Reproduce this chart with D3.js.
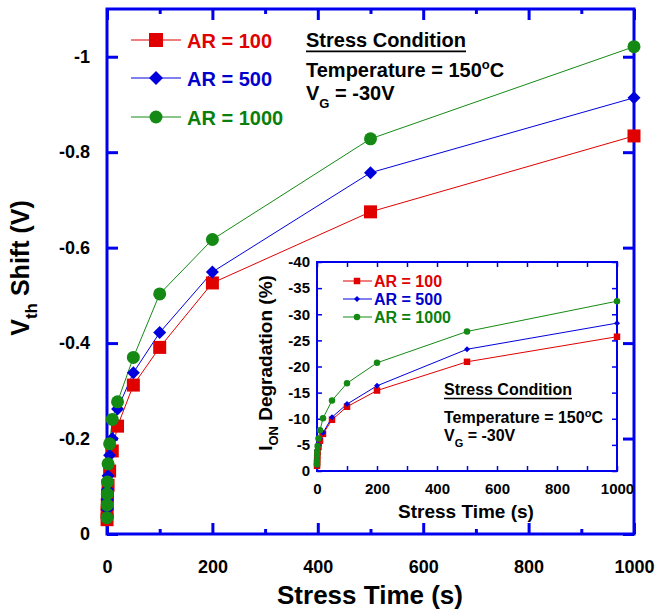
<!DOCTYPE html>
<html>
<head>
<meta charset="utf-8">
<script src="https://cdn.jsdelivr.net/npm/d3@7"></script>
<style>
  body { margin: 0; background: #fff; }
  svg text { font-family: "Liberation Sans", Arial, sans-serif; font-weight: bold; }
</style>
</head>
<body>
<div id="chart"></div>
<script>
// stress times (s) shared by every series
const times = [0.1, 0.2, 0.5, 1, 2, 5, 10, 20, 50, 100, 200, 500, 1000];

// main plot: Vth shift (V)
const vthAR100  = [-0.030, -0.045, -0.062, -0.080, -0.102, -0.132, -0.174, -0.226, -0.312, -0.391, -0.526, -0.675, -0.834];
const vthAR500  = [-0.036, -0.052, -0.072, -0.094, -0.122, -0.165, -0.200, -0.262, -0.338, -0.422, -0.549, -0.757, -0.914];
const vthAR1000 = [-0.034, -0.061, -0.084, -0.109, -0.147, -0.189, -0.240, -0.277, -0.370, -0.503, -0.617, -0.828, -1.021];

// inset: ION degradation (%)
const ionAR100  = [-1.0, -1.5, -2.2, -2.8, -3.6, -4.6, -5.8, -7.1, -9.8, -12.3, -15.4, -20.9, -25.7];
const ionAR500  = [-1.1, -1.7, -2.4, -3.1, -4.0, -5.0, -6.2, -7.3, -10.3, -12.8, -16.3, -23.3, -28.3];
const ionAR1000 = [-1.3, -2.0, -3.0, -3.8, -4.8, -6.2, -7.8, -10.1, -13.5, -16.8, -20.7, -26.7, -32.5];

const seriesNames = ["AR = 100", "AR = 500", "AR = 1000"];

const xTicks = [0, 200, 400, 600, 800, 1000];
const xMinorTicks = [100, 300, 500, 700, 900];
const vthTicks = [0, -0.2, -0.4, -0.6, -0.8, -1];
const ionTicks = [0, -5, -10, -15, -20, -25, -30, -35, -40];

const colors = ["#e00000", "#0000dd", "#148a14"];
const textColors = ["#e00000", "#0000cc", "#0b7f0b"];
const axisBlue = "#0000ee";
const plain = d => String(d);   // keep the hyphen minus of the original

const W = 657, H = 611;
const svg = d3.select("#chart").append("svg")
  .attr("width", W).attr("height", H);

// marker generator, one shape per series
function marker(i, s) {
  if (i === 0) return d3.symbol().type(d3.symbolSquare).size(s * s)();
  if (i === 1) return d3.symbol().type(d3.symbolSquare).size(s * s * 0.5)();
  return d3.symbol().type(d3.symbolCircle).size(Math.PI * s * s / 4)();
}
function markerRot(i) { return i === 1 ? " rotate(45)" : ""; }

function styleAxis(g, w) {
  g.select(".domain").remove();
  g.selectAll(".tick line").attr("stroke", axisBlue).attr("stroke-width", w);
}

// ---------- main plot ----------
const x = d3.scaleLinear().domain([0, 1000]).range([107, 634]);
const y = d3.scaleLinear().domain([0, -1.1]).range([534, 9]);

svg.append("rect")
  .attr("x", x(0)).attr("y", y(-1.1))
  .attr("width", x(1000) - x(0)).attr("height", y(0) - y(-1.1))
  .attr("fill", "#fff").attr("stroke", axisBlue).attr("stroke-width", 3);

svg.append("g").attr("transform", `translate(0,${y(0)})`)
  .call(d3.axisBottom(x).tickValues(xMinorTicks).tickSize(-5).tickFormat(""))
  .call(g => styleAxis(g, 3));
svg.append("g").attr("transform", `translate(0,${y(0)})`)
  .call(d3.axisBottom(x).tickValues(xTicks).tickSize(-11).tickFormat(plain))
  .call(g => styleAxis(g, 3))
  .call(g => g.selectAll("text").attr("y", 39).attr("dy", null)
    .attr("fill", "#000").style("font-size", "18px"));
svg.append("g").attr("transform", `translate(0,${y(-1.1)})`)
  .call(d3.axisTop(x).tickValues(xMinorTicks).tickSize(-5).tickFormat(""))
  .call(g => styleAxis(g, 3));
svg.append("g").attr("transform", `translate(0,${y(-1.1)})`)
  .call(d3.axisTop(x).tickValues(xTicks).tickSize(-11).tickFormat(""))
  .call(g => styleAxis(g, 3));
svg.append("g").attr("transform", `translate(${x(0)},0)`)
  .call(d3.axisLeft(y).tickValues(vthTicks).tickSize(-11).tickPadding(17).tickFormat(plain))
  .call(g => styleAxis(g, 3))
  .call(g => g.selectAll("text").attr("fill", "#000").style("font-size", "18px"));
svg.append("g").attr("transform", `translate(${x(1000)},0)`)
  .call(d3.axisRight(y).tickValues(vthTicks).tickSize(-11).tickFormat(""))
  .call(g => styleAxis(g, 3));

svg.append("text")
  .attr("x", 370).attr("y", 604).attr("text-anchor", "middle")
  .style("font-size", "26px").text("Stress Time (s)");

const yTitle = svg.append("text")
  .attr("transform", "translate(29,268) rotate(-90)")
  .attr("text-anchor", "middle").style("font-size", "25px");
yTitle.append("tspan").text("V");
yTitle.append("tspan").attr("dy", 8).style("font-size", "17px").text("th");
yTitle.append("tspan").attr("dy", -8).text(" Shift (V)");

const mainSeries = [vthAR100, vthAR500, vthAR1000];
const mainLine = d3.line().x((d, k) => x(times[k])).y(d => y(d));
mainSeries.forEach((vals, i) => {
  svg.append("path").datum(vals)
    .attr("d", mainLine).attr("fill", "none")
    .attr("stroke", colors[i]).attr("stroke-width", 1);
});
mainSeries.forEach((vals, i) => {
  svg.append("g").selectAll("path").data(vals).join("path")
    .attr("transform", (d, k) => `translate(${x(times[k])},${y(d)})` + markerRot(i))
    .attr("d", marker(i, 13))
    .attr("fill", colors[i]);
});

// legend
const legRows = [40, 78, 117];
seriesNames.forEach((name, i) => {
  const g = svg.append("g").attr("transform", `translate(0,${legRows[i]})`);
  g.append("line").attr("x1", 131).attr("x2", 181)
    .attr("stroke", colors[i]).attr("stroke-width", 1);
  g.append("path").attr("transform", "translate(156,0)" + markerRot(i))
    .attr("d", marker(i, i === 2 ? 13 : 14)).attr("fill", colors[i]);
  g.append("text").attr("x", 187).attr("y", 7.5)
    .attr("fill", textColors[i]).style("font-size", "20px").text(name);
});

// stress condition text block
function stressCondition(x0, y0, fs, lineGap1, lineGap2, subFs) {
  const t1 = svg.append("text").attr("x", x0).attr("y", y0)
    .style("font-size", fs + "px").text("Stress Condition");
  const w = t1.node().getComputedTextLength();
  svg.append("line").attr("x1", x0).attr("x2", x0 + w)
    .attr("y1", y0 + fs * 0.22).attr("y2", y0 + fs * 0.22)
    .attr("stroke", "#000").attr("stroke-width", fs * 0.09);
  const t2 = svg.append("text").attr("x", x0).attr("y", y0 + lineGap1)
    .style("font-size", fs + "px");
  t2.append("tspan").text("Temperature = 150");
  t2.append("tspan").attr("dy", -fs * 0.4).style("font-size", subFs + "px").text("o");
  t2.append("tspan").attr("dy", fs * 0.4).text("C");
  const t3 = svg.append("text").attr("x", x0).attr("y", y0 + lineGap1 + lineGap2)
    .style("font-size", fs + "px");
  t3.append("tspan").text("V");
  t3.append("tspan").attr("dy", fs * 0.38).style("font-size", subFs + "px").text("G");
  t3.append("tspan").attr("dy", -fs * 0.38).text(" = -30V");
}
stressCondition(306, 47, 20, 30, 23, 13);

// ---------- inset ----------
const xi = d3.scaleLinear().domain([0, 1000]).range([317, 617]);
const yi = d3.scaleLinear().domain([0, -40]).range([471, 262]);

svg.append("rect")
  .attr("x", xi(0)).attr("y", yi(-40))
  .attr("width", xi(1000) - xi(0)).attr("height", yi(0) - yi(-40))
  .attr("fill", "#fff").attr("stroke", axisBlue).attr("stroke-width", 2);

const inXTicks = d3.range(0, 1001, 100);
svg.append("g").attr("transform", `translate(0,${yi(0)})`)
  .call(d3.axisBottom(xi).tickValues(inXTicks).tickSize(-5).tickFormat(""))
  .call(g => styleAxis(g, 1.5));
svg.append("g").attr("transform", `translate(0,${yi(0)})`)
  .call(d3.axisBottom(xi).tickValues(xTicks).tickSize(0).tickFormat(plain))
  .call(g => styleAxis(g, 1.5))
  .call(g => g.selectAll("text").attr("y", 23).attr("dy", null)
    .attr("fill", "#000").style("font-size", "15px"));
svg.append("g").attr("transform", `translate(0,${yi(-40)})`)
  .call(d3.axisTop(xi).tickValues(inXTicks).tickSize(-5).tickFormat(""))
  .call(g => styleAxis(g, 1.5));
svg.append("g").attr("transform", `translate(${xi(0)},0)`)
  .call(d3.axisLeft(yi).tickValues(ionTicks).tickSize(-5).tickPadding(7).tickFormat(plain))
  .call(g => styleAxis(g, 1.5))
  .call(g => g.selectAll("text").attr("fill", "#000").style("font-size", "15px"));
svg.append("g").attr("transform", `translate(${xi(1000)},0)`)
  .call(d3.axisRight(yi).tickValues(ionTicks).tickSize(-5).tickFormat(""))
  .call(g => styleAxis(g, 1.5));

svg.append("text")
  .attr("x", 466).attr("y", 518).attr("text-anchor", "middle")
  .style("font-size", "19px").text("Stress Time (s)");

const yiTitle = svg.append("text")
  .attr("transform", "translate(272,363) rotate(-90)")
  .attr("text-anchor", "middle").style("font-size", "19px");
yiTitle.append("tspan").text("I");
yiTitle.append("tspan").attr("dy", 6).style("font-size", "13px").text("ON");
yiTitle.append("tspan").attr("dy", -6).text(" Degradation (%)");

const inSeries = [ionAR100, ionAR500, ionAR1000];
const inLine = d3.line().x((d, k) => xi(times[k])).y(d => yi(d));
inSeries.forEach((vals, i) => {
  svg.append("path").datum(vals)
    .attr("d", inLine).attr("fill", "none")
    .attr("stroke", colors[i]).attr("stroke-width", 1);
});
const inSizes = [6.5, 6, 6.5];
inSeries.forEach((vals, i) => {
  svg.append("g").selectAll("path").data(vals).join("path")
    .attr("transform", (d, k) => `translate(${xi(times[k])},${yi(d)})` + markerRot(i))
    .attr("d", marker(i, inSizes[i]))
    .attr("fill", colors[i]);
});

const inLegRows = [281, 299, 317];
seriesNames.forEach((name, i) => {
  const g = svg.append("g").attr("transform", `translate(0,${inLegRows[i]})`);
  g.append("line").attr("x1", 343).attr("x2", 372)
    .attr("stroke", colors[i]).attr("stroke-width", 1);
  g.append("path").attr("transform", "translate(357,0)" + markerRot(i))
    .attr("d", marker(i, inSizes[i])).attr("fill", colors[i]);
  g.append("text").attr("x", 374).attr("y", 5.5)
    .attr("fill", textColors[i]).style("font-size", "16px").text(name);
});

stressCondition(444, 395, 16, 28, 18, 11);
</script>
</body>
</html>
